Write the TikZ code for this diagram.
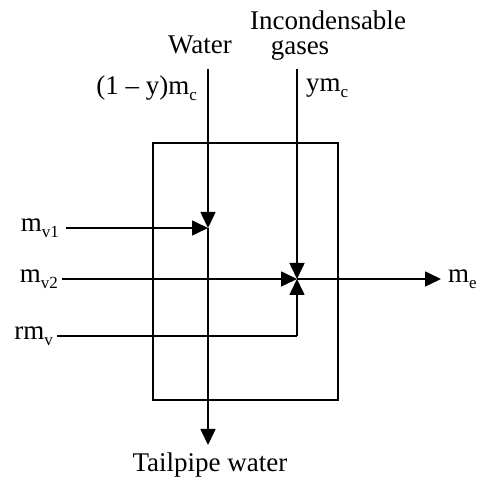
\documentclass[tikz,border=0pt]{standalone}
\usepackage{fontspec}
\setmainfont{Liberation Serif}
\usetikzlibrary{arrows.meta,positioning}
\newcommand{\sbs}[1]{\raisebox{-0.45ex}{\fontsize{17}{17}\selectfont #1}}
\tikzset{
 flow/.style={line width=1.6pt,-{Triangle[length=16pt,width=15pt]}},
 pipe/.style={line width=1.6pt},
 lbl/.style={font=\fontsize{27}{30}\selectfont,inner sep=1pt}
}

\begin{document}
\begin{tikzpicture}[x=1pt,y=1pt]
 \useasboundingbox (0,0) rectangle (479,481);
 % box
 \draw[pipe] (153,81) rectangle (338,338);
 % junctions and free ends
 \coordinate (wtop) at (208,412);
 \coordinate (jw) at (208,253);
 \coordinate (wbot) at (208,36);
 \coordinate (gtop) at (297,412);
 \coordinate (jg) at (297,202);
 \coordinate (rcorner) at (297,145);
 \coordinate (eend) at (441,202);
 % labels
 \node[lbl] (water) at (200,436) {Water};
 \node[lbl] (incond) at (328,461) {Incondensable};
 \node[lbl] (gases) at (300,431) {gases};
 \node[lbl,anchor=east] (mc) at (198,393) {(1 – y)m\sbs{c}};
 \node[lbl,anchor=west] (ymc) at (305,393) {ym\sbs{c}};
 \node[lbl,anchor=east] (mv1) at (60,253) {m\sbs{v1}};
 \node[lbl,anchor=east] (mv2) at (59,202) {m\sbs{v2}};
 \node[lbl,anchor=east] (rmv) at (54,145) {rm\sbs{v}};
 \node[lbl,anchor=west] (me) at (447,202) {m\sbs{e}};
 \node[lbl] (tail) at (210,16) {Tailpipe water};
 % streams
 \draw[flow] (wtop) -- (jw);
 \draw[flow] (jw) -- (wbot);
 \draw[flow] (mv1.east) ++(6,0) coordinate (mv1s) (mv1s) -- (jw);
 \draw[flow] (gtop) -- (jg);
 \draw[flow] (mv2.east) ++(3,0) coordinate (mv2s) (mv2s) -- (jg);
 \draw[pipe] (rmv.east) ++(3,0) coordinate (rmvs) (rmvs) -- (rcorner);
 \draw[flow] (rcorner) -- (jg);
 \draw[flow] (jg) -- (eend);
\end{tikzpicture}
\end{document}
